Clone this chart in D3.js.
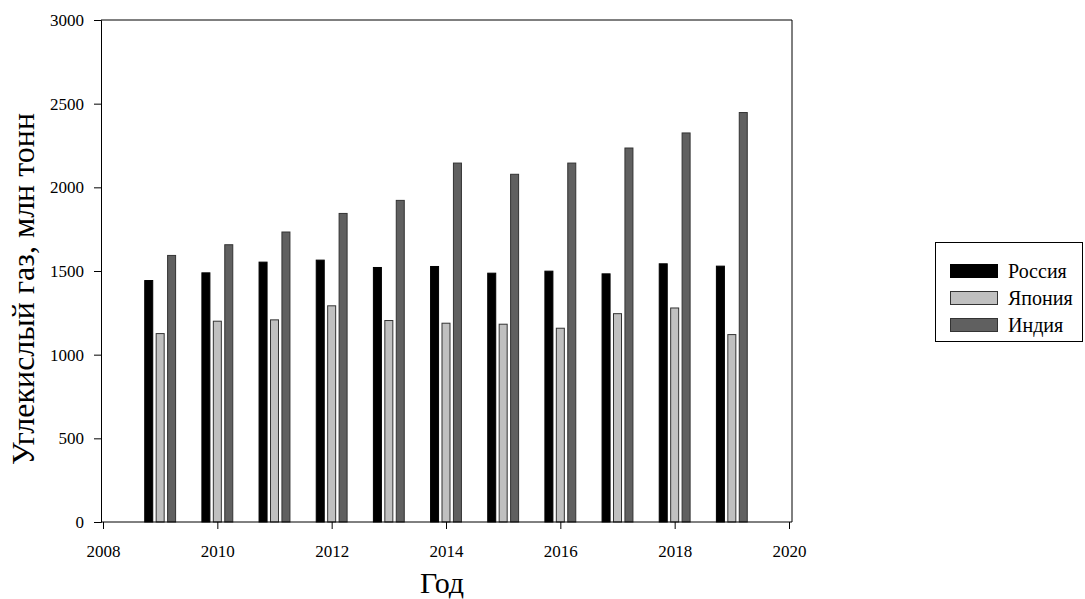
<!DOCTYPE html>
<html>
<head>
<meta charset="utf-8">
<script src="https://cdn.jsdelivr.net/npm/d3@7"></script>
<style>
  html, body { margin: 0; padding: 0; background: #fff; }
  svg { display: block; }
  svg text { font-family: "Liberation Serif", "Times New Roman", serif !important; fill: #000; }
</style>
</head>
<body>
<svg id="chart" width="1085" height="599"></svg>
<script>
const years = [2009, 2010, 2011, 2012, 2013, 2014, 2015, 2016, 2017, 2018, 2019];
const russia = [1443, 1489, 1553, 1565, 1521, 1527, 1487, 1499, 1483, 1543, 1529];
const japan  = [1126, 1200, 1208, 1292, 1204, 1188, 1182, 1158, 1245, 1279, 1120];
const india  = [1593, 1657, 1733, 1844, 1922, 2145, 2078, 2145, 2235, 2325, 2447];
const seriesNames = ["Россия", "Япония", "Индия"];
const seriesColors = ["#000000", "#c0c0c0", "#606060"];
const xTicks = [2008, 2010, 2012, 2014, 2016, 2018, 2020];
const yTicks = [0, 500, 1000, 1500, 2000, 2500, 3000];
const xTitle = "Год";
const yTitle = "Углекислый газ, млн тонн";

(function () {
const FONT = '"Liberation Serif", "Times New Roman", serif';
const series = [russia, japan, india];
const svg = d3.select("#chart");
const pL = 101, pR = 792, pT = 20, pB = 522;

const x = d3.scaleLinear().domain([2008, 2020]).range([103, 789]);
const y = d3.scaleLinear().domain([0, 3000]).range([pB, pT]);
const offsets = [-0.2, 0, 0.2];
const barW = x(2008.14) - x(2008);

// frame (top & right)
svg.append("line").attr("x1", pL).attr("x2", pR).attr("y1", pT).attr("y2", pT)
  .attr("stroke", "#000").attr("stroke-width", 1);
svg.append("line").attr("x1", pR).attr("x2", pR).attr("y1", pT).attr("y2", pB)
  .attr("stroke", "#000").attr("stroke-width", 1);

// bars
series.forEach((vals, si) => {
  svg.append("g").selectAll("rect").data(vals).join("rect")
    .attr("x", (d, i) => x(years[i] + offsets[si]) - barW / 2)
    .attr("y", d => y(d))
    .attr("width", barW)
    .attr("height", d => y(0) - y(d))
    .attr("fill", seriesColors[si])
    .attr("stroke", si === 0 ? "#000" : "#333")
    .attr("stroke-width", 1);
});

// axes
const xAxis = d3.axisBottom(x).tickValues(xTicks).tickFormat(d3.format("d")).tickSizeOuter(0).tickSize(7).tickPadding(16);
const gx = svg.append("g").attr("transform", `translate(0,${pB})`).call(xAxis);
gx.select(".domain").remove();
gx.append("line").attr("x1", pL).attr("x2", pR).attr("y1", 0).attr("y2", 0);
const yAxis = d3.axisLeft(y).tickValues(yTicks).tickFormat(d3.format("d")).tickSizeOuter(0).tickSize(7).tickPadding(10);
const gy = svg.append("g").attr("transform", `translate(${pL},0)`).call(yAxis);
[gx, gy].forEach(g => {
  g.attr("font-family", FONT).attr("font-size", 17);
  g.selectAll("path, line").attr("stroke", "#000");
  g.selectAll("text").attr("fill", "#000");
});

// titles
svg.append("text").attr("x", 442).attr("y", 593).attr("font-family", FONT)
  .attr("text-anchor", "middle").attr("font-size", 30).text(xTitle);
svg.append("text").attr("transform", `translate(34,${(pT + pB) / 2 + 18}) rotate(-90)`)
  .attr("font-family", FONT)
  .attr("text-anchor", "middle").attr("font-size", 32).text(yTitle);

// legend
const lg = svg.append("g");
lg.append("rect").attr("x", 935.5).attr("y", 242.5).attr("width", 147).attr("height", 99)
  .attr("fill", "#fff").attr("stroke", "#000").attr("stroke-width", 1);
seriesNames.forEach((name, i) => {
  const yy = 264.5 + i * 27;
  lg.append("rect").attr("x", 950.5).attr("y", yy).attr("width", 47).attr("height", 13)
    .attr("fill", seriesColors[i]).attr("stroke", i === 0 ? "#000" : "#333").attr("stroke-width", 1);
  lg.append("text").attr("x", 1008).attr("y", yy + 13).attr("font-family", FONT)
    .attr("font-size", 20).text(name);
});
})();
</script>
</body>
</html>
